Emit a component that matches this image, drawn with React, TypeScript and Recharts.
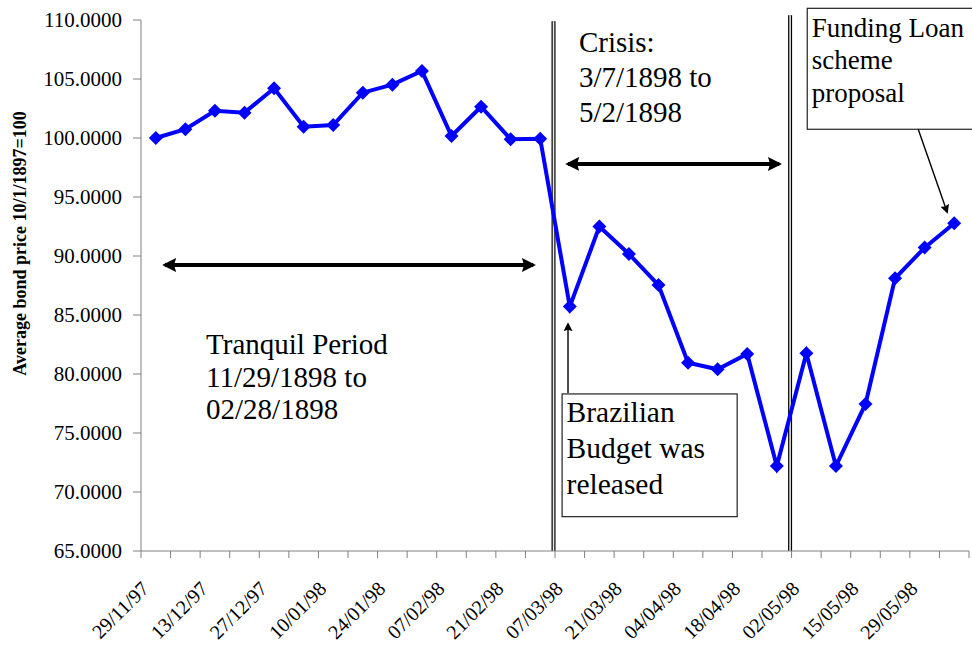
import { Line, LineChart, ReferenceArea, ReferenceDot, ReferenceLine, XAxis, YAxis } from 'recharts'

// weekly observations, Nov 1897 – Jun 1898
const weeks = [
  '29/11/97', '06/12/97', '13/12/97', '20/12/97', '27/12/97', '03/01/98', '10/01/98',
  '17/01/98', '24/01/98', '31/01/98', '07/02/98', '14/02/98', '21/02/98', '28/02/98',
  '07/03/98', '14/03/98', '21/03/98', '28/03/98', '04/04/98', '11/04/98', '18/04/98',
  '25/04/98', '02/05/98', '08/05/98', '15/05/98', '22/05/98', '29/05/98', '05/06/98',
]

// average bond price index, 10/1/1897 = 100
const prices = [
  100.0, 100.74, 102.31, 102.15, 104.21, 100.96, 101.1,
  103.84, 104.52, 105.68, 100.17, 102.65, 99.89, 99.94,
  85.71, 92.49, 90.17, 87.54, 80.96, 80.4, 81.7,
  72.2, 81.75, 72.2, 77.46, 88.11, 90.71, 92.77,
]

const priceTicks = [65, 70, 75, 80, 85, 90, 95, 100, 105, 110]

const SERIF = '"Liberation Serif", "Times New Roman", Times, serif'
const BLUE = '#0000FF'
const AXIS = '#808080'

const rows = prices.map((price, i) => ({ idx: i, date: weeks[i], price }))

// tick marks sit on the edges between weeks; every other edge is labelled
const weekEdges = [...weeks.map((_, i) => i - 0.5), weeks.length - 0.5]
const edgeLabel = (v: number) => {
  const k = v + 0.5
  return k % 2 === 0 && k < weeks.length ? weeks[k] : ''
}

function Diamond(props: any) {
  const { cx, cy } = props
  if (cx == null || cy == null) return null
  const s = 7
  return (
    <polygon
      points={`${cx},${cy - s} ${cx + s},${cy} ${cx},${cy + s} ${cx - s},${cy}`}
      fill={BLUE}
    />
  )
}

function TextLines({ x, y, lines, size, gap }: { x: number; y: number; lines: string[]; size: number; gap: number }) {
  return (
    <text x={x} y={y} fontFamily={SERIF} fontSize={size} fill="#000">
      {lines.map((line, i) => (
        <tspan key={line} x={x} dy={i === 0 ? 0 : gap}>
          {line}
        </tspan>
      ))}
    </text>
  )
}

const noteAt = (lines: string[], size: number, gap: number) => (p: any) => (
  <TextLines x={p.cx} y={p.cy} lines={lines} size={size} gap={gap} />
)

const noteBox = (lines: string[], size: number, gap: number, top: number) => (p: any) => (
  <g>
    <rect x={p.x} y={p.y} width={p.width} height={p.height} fill="#fff" stroke="#222" strokeWidth={1.2} />
    <TextLines x={p.x + 4.5} y={p.y + top} lines={lines} size={size} gap={gap} />
  </g>
)

const arrow = (id: string, both: boolean, width: number, head: number) => (p: any) => (
  <g>
    <defs>
      <marker
        id={id}
        viewBox="0 0 10 10"
        refX="8"
        refY="5"
        markerWidth={head}
        markerHeight={head}
        markerUnits="userSpaceOnUse"
        orient="auto-start-reverse"
      >
        <path d="M0,0 L10,5 L0,10 L1.5,5 z" fill="#000" />
      </marker>
    </defs>
    <line
      x1={p.x1}
      y1={p.y1}
      x2={p.x2}
      y2={p.y2}
      stroke="#000"
      strokeWidth={width}
      markerEnd={`url(#${id})`}
      markerStart={both ? `url(#${id})` : undefined}
    />
  </g>
)

const doubleRule = (p: any) => (
  <g>
    <line x1={p.x1} y1={p.y1} x2={p.x2} y2={p.y2} stroke="#000" strokeWidth={4} />
    <line x1={p.x1} y1={p.y1} x2={p.x2} y2={p.y2} stroke="#e6e6e6" strokeWidth={1.6} />
  </g>
)

const axisTitle = ({ viewBox }: any) => {
  const cx = viewBox.x + 20
  const cy = viewBox.y + viewBox.height / 2 - 42
  return (
    <text
      x={cx}
      y={cy}
      transform={`rotate(-90, ${cx}, ${cy})`}
      textAnchor="middle"
      dominantBaseline="central"
      fontFamily={SERIF}
      fontSize={18}
      fontWeight="bold"
      fill="#000"
    >
      Average bond price 10/1/1897=100
    </text>
  )
}

export default function App() {
  return (
    <div style={{ position: 'absolute', left: 0, top: 0, background: '#fff' }}>
      <LineChart width={972} height={647} data={rows} margin={{ top: 20, right: 3, bottom: 0, left: 0 }}>
        <XAxis
          type="number"
          dataKey="idx"
          domain={[-0.5, weeks.length - 0.5]}
          ticks={weekEdges}
          interval={0}
          tickFormatter={edgeLabel}
          height={96}
          stroke={AXIS}
          tickSize={7}
          tickMargin={22}
          angle={-45}
          tick={{ fontSize: 20, fill: '#000', fontFamily: SERIF, textAnchor: 'end', dx: -1 }}
        />
        <YAxis
          type="number"
          domain={[65, 110]}
          ticks={priceTicks}
          interval={0}
          width={141}
          stroke={AXIS}
          tickSize={8}
          tickMargin={11}
          tickFormatter={(v: number) => v.toFixed(4)}
          tick={{ fontSize: 21, fill: '#000', fontFamily: SERIF }}
          label={{ content: axisTitle }}
        />

        {/* crisis window boundaries */}
        <ReferenceLine segment={[{ x: 13.45, y: 65 }, { x: 13.45, y: 109.9 }]} ifOverflow="visible" shape={doubleRule} />
        <ReferenceLine segment={[{ x: 21.45, y: 65 }, { x: 21.45, y: 110.4 }]} ifOverflow="visible" shape={doubleRule} />

        {/* period spans */}
        <ReferenceLine segment={[{ x: 0.31, y: 89.24 }, { x: 12.76, y: 89.24 }]} ifOverflow="visible" shape={arrow('span-tranquil', true, 4, 14)} />
        <ReferenceLine segment={[{ x: 13.94, y: 97.8 }, { x: 21.08, y: 97.8 }]} ifOverflow="visible" shape={arrow('span-crisis', true, 4, 14)} />

        <ReferenceDot x={1.7} y={81.69} r={0} ifOverflow="visible" shape={noteAt(['Tranquil Period', '11/29/1898 to', '02/28/1898'], 29, 32.5)} />
        <ReferenceDot x={14.31} y={107.29} r={0} ifOverflow="visible" shape={noteAt(['Crisis:', '3/7/1898 to', '5/2/1898'], 29, 35)} />

        {/* event call-outs */}
        <ReferenceArea x1={13.74} x2={19.66} y1={67.91} y2={78.31} ifOverflow="visible" shape={noteBox(['Brazilian', 'Budget was', 'released'], 29.5, 36, 28)} />
        <ReferenceLine segment={[{ x: 13.94, y: 78.39 }, { x: 13.94, y: 84.24 }]} ifOverflow="visible" shape={arrow('call-budget', false, 1.4, 9)} />
        <ReferenceArea x1={22.03} x2={27.7} y1={100.74} y2={110.99} ifOverflow="visible" shape={noteBox(['Funding Loan', 'scheme', 'proposal'], 27, 32.5, 28.5)} />
        <ReferenceLine segment={[{ x: 25.78, y: 100.76 }, { x: 26.76, y: 93.73 }]} ifOverflow="visible" shape={arrow('call-funding', false, 1.4, 9)} />

        <Line
          type="linear"
          dataKey="price"
          stroke={BLUE}
          strokeWidth={4}
          dot={(p: any) => <Diamond key={p.index} {...p} />}
          activeDot={false}
          isAnimationActive={false}
        />
      </LineChart>
    </div>
  )
}
